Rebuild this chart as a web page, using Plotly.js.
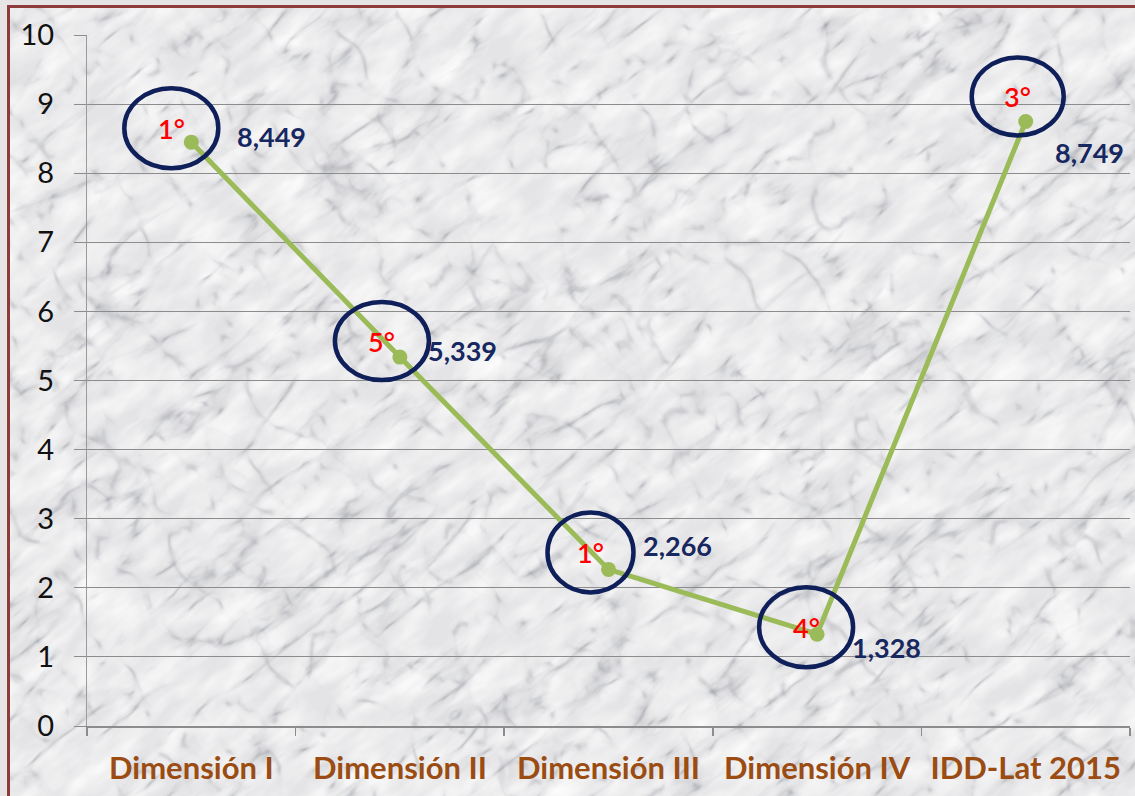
<!DOCTYPE html>
<html>
<head>
<meta charset="utf-8">
<script src="https://cdn.plot.ly/plotly-3.0.1.min.js"></script>
<style>
  html, body { margin: 0; padding: 0; background: #e6e4e4; }
  #frame {
    position: absolute; left: 7px; top: 5px; width: 1140px; height: 800px;
    border: 3px solid #8e3b3b; box-sizing: border-box; overflow: hidden;
    background-color: #eeeeef;
  }
  #marble { position: absolute; left: 0; top: 0; }
  #chart { position: absolute; left: 0; top: 0; width: 1135px; height: 796px; }
</style>
</head>
<body>
<div id="frame">
  <svg id="marble" width="1140" height="800" xmlns="http://www.w3.org/2000/svg">
    <defs>
      <filter id="veins" x="0" y="0" width="100%" height="100%" color-interpolation-filters="sRGB">
        <feTurbulence type="turbulence" baseFrequency="0.007 0.022" numOctaves="4" seed="11" result="t"/>
        <feColorMatrix in="t" type="matrix" values="0 0 0 0 0.42  0 0 0 0 0.43  0 0 0 0 0.47  0 0 0 1 0"/>
        <feComponentTransfer><feFuncA type="table" tableValues="0.42 0.1 0 0 0 0 0 0 0 0"/></feComponentTransfer>
      </filter>
      <filter id="veins2" x="0" y="0" width="100%" height="100%" color-interpolation-filters="sRGB">
        <feTurbulence type="turbulence" baseFrequency="0.018 0.012" numOctaves="3" seed="23" result="t"/>
        <feColorMatrix in="t" type="matrix" values="0 0 0 0 0.45  0 0 0 0 0.46  0 0 0 0 0.5  0 0 0 1 0"/>
        <feComponentTransfer><feFuncA type="table" tableValues="0.3 0.05 0 0 0 0 0 0 0 0"/></feComponentTransfer>
      </filter>
      <filter id="cloud" x="0" y="0" width="100%" height="100%" color-interpolation-filters="sRGB">
        <feTurbulence type="fractalNoise" baseFrequency="0.02 0.05" numOctaves="3" seed="4"/>
        <feColorMatrix type="matrix" values="0 0 0 0 1  0 0 0 0 1  0 0 0 0 1  0 0 0 1.4 -0.4"/>
      </filter>
    </defs>
    <rect width="1140" height="800" fill="#e4e4e6"/>
    <g transform="rotate(-38 570 400)">
      <rect x="-500" y="-500" width="2200" height="1800" filter="url(#cloud)"/>
      <rect x="-500" y="-500" width="2200" height="1800" filter="url(#veins)"/>
      <rect x="-500" y="-500" width="2200" height="1800" filter="url(#veins2)"/>
    </g>
  </svg>
</div>
<div id="chart"></div>
<script>
// ---- data ----
const categories = ["Dimensión I", "Dimensión II", "Dimensión III", "Dimensión IV", "IDD-Lat 2015"];
const values = [8.449, 5.339, 2.266, 1.328, 8.749];
const valueLabels = ["8,449", "5,339", "2,266", "1,328", "8,749"];
const rankLabels = ["1°", "5°", "1°", "4°", "3°"];
const yTicks = [0, 1, 2, 3, 4, 5, 6, 7, 8, 9, 10];

// ---- callout styling (pixel offsets relative to each point) ----
const rankOffset = [[-20, 14], [-18, 16], [-18, 17], [-11, 7], [-8, 25]];
const ellipseSize = [[47, 40], [47, 39], [43, 40], [47, 40], [46, 39]];
const valueOffset = [[44, 6], [26, 7], [32, 24], [33, -13], [27, -31]];

const idx = categories.map((_, i) => i);

const trace = {
  x: categories,
  y: values,
  type: "scatter",
  mode: "lines+markers",
  line: { color: "#9bbb59", width: 5 },
  marker: { color: "#9bbb59", size: 15 },
  hoverinfo: "skip",
  cliponaxis: false
};

const shapes = idx.map(i => ({
  type: "circle",
  xref: "x", yref: "y",
  xsizemode: "pixel", ysizemode: "pixel",
  xanchor: i, yanchor: values[i],
  x0: rankOffset[i][0] - ellipseSize[i][0], x1: rankOffset[i][0] + ellipseSize[i][0],
  y0: rankOffset[i][1] - ellipseSize[i][1], y1: rankOffset[i][1] + ellipseSize[i][1],
  line: { color: "#0f1f5a", width: 4.5 },
  fillcolor: "rgba(0,0,0,0)",
  layer: "above"
}));

const annotations = [];
idx.forEach(i => {
  annotations.push({
    x: i, y: values[i], xref: "x", yref: "y",
    text: rankLabels[i], showarrow: false,
    xanchor: "center", yanchor: "middle",
    xshift: rankOffset[i][0], yshift: rankOffset[i][1],
    font: { family: "Lato, 'Open Sans', sans-serif", size: 27, color: "#ff0000", weight: 600 }
  });
  annotations.push({
    x: i, y: values[i], xref: "x", yref: "y",
    text: "<b>" + valueLabels[i] + "</b>", showarrow: false,
    xanchor: "left", yanchor: "middle",
    xshift: valueOffset[i][0], yshift: valueOffset[i][1],
    font: { family: "Lato, 'Open Sans', sans-serif", size: 27, color: "#17275f" }
  });
});

const layout = {
  width: 1135, height: 796,
  margin: { l: 87, r: 5, t: 35, b: 70 },
  paper_bgcolor: "rgba(0,0,0,0)",
  plot_bgcolor: "rgba(0,0,0,0)",
  showlegend: false,
  xaxis: {
    type: "category",
    categoryorder: "array",
    categoryarray: categories,
    range: [-0.5, 4.5],
    showgrid: false,
    zeroline: false,
    showline: true,
    linecolor: "#8c8c8c",
    linewidth: 1.5,
    ticks: "outside",
    tickson: "boundaries",
    ticklen: 8,
    tickwidth: 1.5,
    tickcolor: "#8c8c8c",
    tickfont: { family: "Lato, 'Open Sans', sans-serif", size: 31, color: "#9a4c12", weight: "bold" },
    ticklabelstandoff: 14,
    fixedrange: true
  },
  yaxis: {
    range: [0, 10],
    tickmode: "array",
    tickvals: yTicks,
    ticktext: yTicks.map(String),
    showgrid: true,
    gridcolor: "#8c8c8c",
    gridwidth: 1,
    zeroline: false,
    showline: true,
    linecolor: "#9a9a9a",
    linewidth: 1,
    ticks: "outside",
    ticklen: 12,
    tickcolor: "#8c8c8c",
    tickfont: { family: "Lato, 'Open Sans', sans-serif", size: 29, color: "#111111" },
    ticklabelstandoff: 14,
    fixedrange: true
  },
  shapes: shapes,
  annotations: annotations
};

Plotly.newPlot("chart", [trace], layout, { displayModeBar: false, staticPlot: true });
</script>
</body>
</html>
